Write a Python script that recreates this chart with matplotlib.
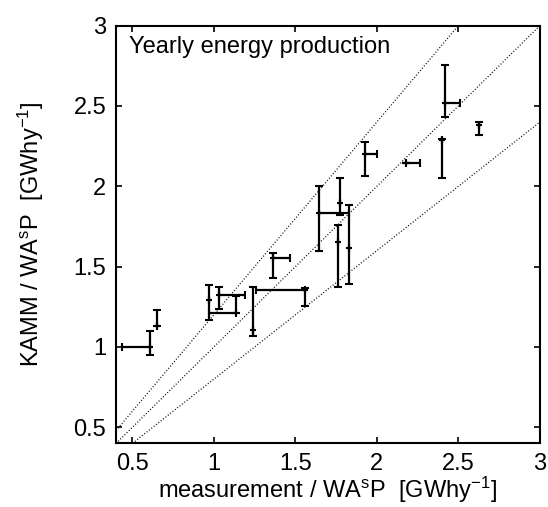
import matplotlib
matplotlib.use("Agg")
import matplotlib.pyplot as plt
import numpy as np

plt.rcParams['font.family'] = ['Liberation Sans', 'DejaVu Sans']
plt.rcParams['mathtext.fontset'] = 'custom'
plt.rcParams['mathtext.rm'] = 'Liberation Sans'
plt.rcParams['mathtext.it'] = 'Liberation Sans:italic'

# measurement / WAsP (x) and KAMM / WAsP (y) with asymmetric error ranges
x_vals = [0.606, 0.649, 0.968, 1.032, 1.134, 1.240, 1.560, 1.362, 1.645, 1.772, 1.760, 1.830, 1.926, 2.181, 2.398, 2.415, 2.623]
y_vals = [1.000, 1.132, 1.293, 1.324, 1.210, 1.107, 1.355, 1.552, 1.831, 1.893, 1.655, 1.618, 2.198, 2.145, 2.285, 2.519, 2.378]
x_err_lo = [0.170, 0.0, 0.0, 0.0, 0.166, 0.0, 0.300, 0.0, 0.0, 0.0, 0.0, 0.0, 0.0, 0.0, 0.0, 0.0, 0.0]
x_err_hi = [0.0, 0.0, 0.0, 0.160, 0.0, 0.0, 0.0, 0.105, 0.185, 0.0, 0.0, 0.0, 0.074, 0.085, 0.0, 0.096, 0.0]
y_err_lo = [0.048, 0.0, 0.124, 0.090, 0.0, 0.041, 0.103, 0.124, 0.232, 0.073, 0.283, 0.225, 0.136, 0.0, 0.231, 0.089, 0.062]
y_err_hi = [0.101, 0.099, 0.093, 0.052, 0.108, 0.269, 0.010, 0.035, 0.169, 0.161, 0.103, 0.264, 0.077, 0.0, 0.010, 0.235, 0.021]

# reference lines y = factor * x
line_factors = [1.2, 1.0, 0.8]

xlim = (0.4, 3.0)
ylim = (0.4, 3.0)
x_ticks = [0.5, 1, 1.5, 2, 2.5, 3]
y_ticks = [0.5, 1, 1.5, 2, 2.5, 3]
tick_labels = ['0.5', '1', '1.5', '2', '2.5', '3']

fig = plt.figure(figsize=(5.48, 5.07), dpi=100)
ax = fig.add_axes([0.2117, 0.1254, 0.7737, 0.8243])

xx = np.linspace(xlim[0], xlim[1], 200)
for f in line_factors:
    ax.plot(xx, f * xx, color='black', linestyle=(0, (0.8, 1.6)), linewidth=0.9)

ax.errorbar(x_vals, y_vals,
            xerr=[x_err_lo, x_err_hi], yerr=[y_err_lo, y_err_hi],
            fmt='+', color='black', ms=4, mew=1.5,
            elinewidth=1.6, capsize=3.2, capthick=1.6)

ax.set_xlim(*xlim)
ax.set_ylim(*ylim)
ax.set_xticks(x_ticks)
ax.set_yticks(y_ticks)
ax.set_xticklabels(tick_labels)
ax.set_yticklabels(tick_labels)
ax.tick_params(direction='in', top=True, right=True, length=4, width=1.2,
               labelsize=17, pad=7)
for s in ax.spines.values():
    s.set_linewidth(1.5)

ax.set_xlabel(r'measurement / WA$^{\mathrm{s}}$P  [GWhy$^{\mathrm{-1}}$]', fontsize=17, labelpad=0)
ax.set_ylabel(r'KAMM / WA$^{\mathrm{s}}$P  [GWhy$^{\mathrm{-1}}$]', fontsize=17, labelpad=20)

ax.text(0.03, 0.975, 'Yearly energy production', transform=ax.transAxes,
        fontsize=17, va='top', ha='left')

fig.savefig('out.png', dpi=100)
